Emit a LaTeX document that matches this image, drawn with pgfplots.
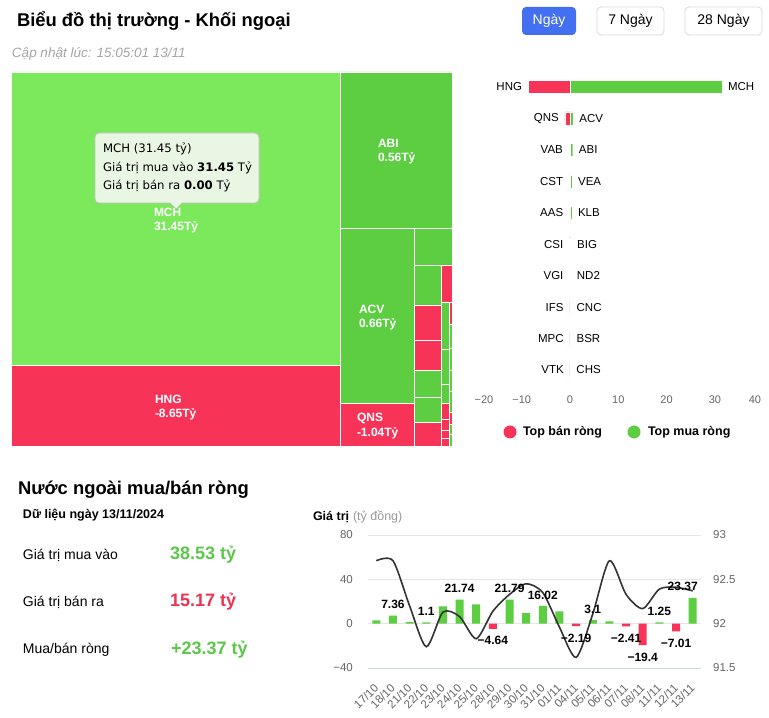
\documentclass[border=0pt]{standalone}
\usepackage{fontspec}
\setmainfont{Liberation Sans}
\newfontfamily\dvsans{DejaVu Sans}
\usepackage{pgfplots}
\pgfplotsset{compat=1.18}

\definecolor{cRed}{HTML}{F73357}
\definecolor{cGreenL}{HTML}{7CE85C}
\definecolor{cGreen}{HTML}{5DCE42}
\definecolor{cBlue}{HTML}{4270F0}
\definecolor{cGrayT}{HTML}{666666}
\definecolor{cGrid}{HTML}{E6E6E6}
\definecolor{cAxis}{HTML}{CCD6EB}
\definecolor{cLine}{HTML}{333333}
\definecolor{cTxtGreen}{HTML}{5BC84A}
\definecolor{cTxtRed}{HTML}{EB3452}
\definecolor{tipbg}{HTML}{EAF6E4}

\newcommand{\fs}[1]{\fontsize{#1}{#1}\selectfont}
% treemap cell: x1 y1 x2 y2 colour
\newcommand{\cell}[5]{\addplot[mark=none, fill=#5, draw=white, line width=0.8pt]
  coordinates {(#1,#2) (#3,#2) (#3,#4) (#1,#4) (#1,#2)};}
\tikzset{tx/.style={inner sep=0pt, outer sep=0pt}}

\begin{document}
\begin{tikzpicture}
\begin{scope}[x=1pt,y=1pt]
\fill[white] (0,0) rectangle (769,718);
% ---- header
\node[tx, anchor=west, font=\bfseries\fs{18.4}] at (17,697) {Biểu đồ thị trường - Khối ngoại};
\fill[cBlue, rounded corners=4pt] (522,683) rectangle (576,711);
\node[tx, white, font=\fs{14}] at (549,697) {Ngày};
\draw[black!15, line width=0.8pt, rounded corners=4pt] (597,683) rectangle (664,711);
\node[tx, font=\fs{14}] at (630.5,697) {7 Ngày};
\draw[black!15, line width=0.8pt, rounded corners=4pt] (685,683) rectangle (762,711);
\node[tx, font=\fs{14}] at (723.5,697) {28 Ngày};
\node[tx, anchor=west, font=\itshape\fs{13.5}, text=black!35] at (12,664) {Cập nhật lúc: 15:05:01 13/11};
\end{scope}

% ---- treemap
\begin{axis}[at={(231.5pt,459pt)}, anchor=center, scale only axis,
  width=441pt, height=374pt, hide axis, clip=false,
  xmin=11, xmax=452, ymin=72, ymax=446, y dir=reverse]
\cell{11}{72}{340}{365}{cGreenL}
\cell{11}{365}{340}{446}{cRed}
\cell{340}{72}{452}{228}{cGreen}
\cell{340}{228}{414}{403}{cGreen}
\cell{340}{403}{414}{446}{cRed}
\cell{414}{228}{452}{265}{cGreen}
\cell{414}{265}{441}{305}{cGreen}
\cell{441}{265}{452}{302}{cRed}
\cell{414}{305}{441}{340}{cRed}
\cell{414}{340}{441}{370}{cRed}
\cell{414}{370}{441}{397}{cGreen}
\cell{414}{397}{441}{422}{cGreen}
\cell{414}{422}{441}{446}{cRed}
\cell{441}{302}{449}{349}{cGreen}
\cell{441}{349}{449}{384}{cGreen}
\cell{441}{384}{449}{403}{cGreen}
\cell{441}{403}{449}{419}{cRed}
\cell{441}{419}{449}{430}{cRed}
\cell{441}{430}{449}{438}{cRed}
\cell{441}{438}{449}{446}{cRed}
\cell{449}{302}{452}{324}{cRed}
\cell{449}{324}{452}{348}{cGreen}
\cell{449}{348}{452}{370}{cGreen}
\cell{449}{370}{452}{391}{cGreen}
\cell{449}{391}{452}{412}{cGreen}
\cell{449}{412}{452}{424}{cRed}
\cell{449}{424}{452}{434}{cGreen}
\cell{449}{434}{452}{446}{cGreen}
\begin{scope}[every node/.style={tx, anchor=west, text=white, font=\bfseries\fs{12}}]
\node at (axis cs:154,212) {MCH};
\node at (axis cs:154,227) {31.45Tỷ};
\node at (axis cs:155,399) {HNG};
\node at (axis cs:155,414) {-8.65Tỷ};
\node at (axis cs:378,143) {ABI};
\node at (axis cs:378,158) {0.56Tỷ};
\node at (axis cs:359,309) {ACV};
\node at (axis cs:359,324) {0.66Tỷ};
\node at (axis cs:357,418) {QNS};
\node at (axis cs:357,433) {-1.04Tỷ};
\end{scope}
\end{axis}

% tooltip
\begin{scope}[x=1pt,y=1pt]
\filldraw[draw=black!25, fill=tipbg, line width=0.7pt, rounded corners=4pt]
  (95,585) -- (259,585) -- (259,515) [sharp corners] -- (182,515) -- (176,509)
  -- (170,515) [rounded corners=4pt] -- (95,515) -- cycle;
\node[tx, anchor=west, font=\dvsans\fs{11.7}] at (103,569) {MCH (31.45 tỷ)};
\node[tx, anchor=west, font=\dvsans\fs{11.7}] at (103,550) {Giá trị mua vào \textbf{31.45} Tỷ};
\node[tx, anchor=west, font=\dvsans\fs{11.7}] at (103,532) {Giá trị bán ra \textbf{0.00} Tỷ};
\end{scope}

% ---- top net buy / sell bars
\begin{axis}[at={(618.3pt,489.5pt)}, anchor=center, scale only axis,
  width=289.8pt, height=314.4pt, hide axis, clip=false,
  xmin=-20, xmax=40, ymin=0.5, ymax=10.5]
\addplot[xbar, bar shift=0pt, bar width=13pt, fill=cRed, draw=white, line width=0.4pt,
  nodes near coords, point meta=explicit symbolic,
  nodes near coords style={anchor=east, xshift=-6pt, inner sep=0pt, font=\fs{11.5}, text=black}]
  coordinates {(-8.65,10) [HNG] (-1.04,9) [QNS] (-0.2,8) [VAB] (-0.15,7) [CST] (-0.12,6) [AAS]
               (-0.1,5) [CSI] (-0.08,4) [VGI] (-0.05,3) [IFS] (-0.03,2) [MPC] (-0.02,1) [VTK]};
\addplot[xbar, bar shift=0pt, bar width=13pt, fill=cGreen, draw=white, line width=0.4pt,
  nodes near coords, point meta=explicit symbolic,
  nodes near coords style={anchor=west, xshift=6pt, inner sep=0pt, font=\fs{11.5}, text=black}]
  coordinates {(31.45,10) [MCH] (0.66,9) [ACV] (0.56,8) [ABI] (0.4,7) [VEA] (0.38,6) [KLB]
               (0.2,5) [BIG] (0.15,4) [ND2] (0.1,3) [CNC] (0.08,2) [BSR] (0.05,1) [CHS]};
\begin{scope}[every node/.style={tx, text=cGrayT, font=\fs{11}, yshift=-14.3pt}]
\node at (axis cs:-17.8,0.5) {−20};
\node at (axis cs:-10,0.5) {−10};
\node at (axis cs:0,0.5) {0};
\node at (axis cs:10,0.5) {10};
\node at (axis cs:20,0.5) {20};
\node at (axis cs:30,0.5) {30};
\node at (axis cs:38.3,0.5) {40};
\end{scope}
\end{axis}

\begin{scope}[x=1pt,y=1pt]
% legend
\fill[cRed] (510,286) circle (6.5pt);
\node[tx, anchor=west, font=\bfseries\fs{12.5}] at (523,286) {Top bán ròng};
\fill[cGreen] (634,286) circle (6.5pt);
\node[tx, anchor=west, font=\bfseries\fs{12.5}] at (648,286) {Top mua ròng};

% ---- bottom left summary
\node[tx, anchor=west, font=\bfseries\fs{18.4}] at (18,228) {Nước ngoài mua/bán ròng};
\node[tx, anchor=west, font=\bfseries\fs{12.5}] at (23,203) {Dữ liệu ngày 13/11/2024};
\node[tx, anchor=west, font=\fs{14}] at (23,163) {Giá trị mua vào};
\node[tx, anchor=west, font=\bfseries\fs{18}, text=cTxtGreen] at (170,163) {38.53 tỷ};
\node[tx, anchor=west, font=\fs{14}] at (23,116) {Giá trị bán ra};
\node[tx, anchor=west, font=\bfseries\fs{18}, text=cTxtRed] at (170,116) {15.17 tỷ};
\node[tx, anchor=west, font=\fs{14}] at (23,68) {Mua/bán ròng};
\node[tx, anchor=west, font=\bfseries\fs{18}, text=cTxtGreen] at (171,68) {+23.37 tỷ};

% ---- bottom chart title
\node[tx, anchor=west, font=\bfseries\fs{12.5}] at (313,201) {Giá trị};
\node[tx, anchor=west, font=\fs{12.5}, text=black!40] at (353,201) {(tỷ đồng)};
\end{scope}

\begin{axis}[at={(534.5pt,116.5pt)}, anchor=center, scale only axis,
  width=333pt, height=133pt,
  xmin=-0.5, xmax=19.5, ymin=-40, ymax=80,
  axis x line*=bottom, axis y line*=left,
  y axis line style={draw=none}, x axis line style={cAxis, line width=0.8pt},
  ymajorgrids, grid style={cGrid, line width=0.8pt},
  major tick length=0pt,
  ytick={-40,0,40,80}, yticklabels={−40,0,40,80},
  yticklabel style={anchor=east, inner sep=0pt, xshift=-15pt, font=\fs{11.5}, text=cGrayT},
  xtick={0,...,19},
  xticklabels={17/10,18/10,21/10,22/10,23/10,24/10,25/10,28/10,29/10,30/10,31/10,
               01/11,04/11,05/11,06/11,07/11,08/11,11/11,12/11,13/11},
  xticklabel style={yshift=-18pt, rotate=45, anchor=east, inner sep=0pt, font=\fs{11.5}, text=cGrayT}]
\addplot[ybar, bar shift=0pt, bar width=8pt, fill=cGreen, draw=none]
  coordinates {(0,3.0) (1,7.36) (2,1.5) (3,1.1) (4,15.6) (5,21.74) (6,17.5) (8,21.79) (9,9.6)
               (10,16.02) (11,11.1) (13,3.1) (14,2.0) (17,1.25) (19,23.37)};
\addplot[ybar, bar shift=0pt, bar width=8pt, fill=cRed, draw=none]
  coordinates {(7,-4.64) (12,-2.19) (15,-2.41) (16,-19.4) (18,-7.01)};
\end{axis}

\begin{axis}[at={(534.5pt,116.5pt)}, anchor=center, scale only axis,
  width=333pt, height=133pt,
  xmin=-0.5, xmax=19.5, ymin=91.5, ymax=93,
  axis x line=none, axis y line*=right, y axis line style={draw=none},
  major tick length=0pt,
  ytick={91.5,92,92.5,93}, yticklabels={91.5,92,92.5,93},
  yticklabel style={anchor=west, inner sep=0pt, xshift=12pt, font=\fs{11.5}, text=cGrayT}]
\addplot[smooth, tension=0.45, mark=none, cLine, line width=1.6pt]
  coordinates {(0,92.71) (1,92.71) (2,92.2) (3,91.74) (4,92.13) (5,92.08) (6,91.83) (7,92.14)
               (8,92.33) (9,92.45) (10,92.35) (11,91.96) (12,91.62) (13,92.11) (14,92.71)
               (15,92.33) (16,92.17) (17,92.39) (18,92.41) (19,92.37)};
\end{axis}

\begin{axis}[at={(534.5pt,116.5pt)}, anchor=center, scale only axis,
  width=333pt, height=133pt, hide axis, clip=false,
  xmin=-0.5, xmax=19.5, ymin=-40, ymax=80]
\begin{scope}[every node/.style={tx, font=\bfseries\fs{12}}]
\node[yshift=11pt] at (axis cs:1,7.36) {7.36};
\node[yshift=11pt] at (axis cs:3,1.1) {1.1};
\node[yshift=11pt] at (axis cs:5,21.74) {21.74};
\node[yshift=-12pt] at (axis cs:7,-4.64) {−4.64};
\node[yshift=11pt] at (axis cs:8,21.79) {21.79};
\node[yshift=11pt] at (axis cs:10,16.02) {16.02};
\node[yshift=-12pt] at (axis cs:12,-2.19) {−2.19};
\node[yshift=11pt] at (axis cs:13,3.1) {3.1};
\node[yshift=-12pt] at (axis cs:15,-2.41) {−2.41};
\node[yshift=-12pt] at (axis cs:16,-19.4) {−19.4};
\node[yshift=11pt] at (axis cs:17,1.25) {1.25};
\node[yshift=-12pt] at (axis cs:18,-7.01) {−7.01};
\node[yshift=11pt, xshift=-10pt] at (axis cs:19,23.37) {23.37};
\end{scope}
\end{axis}

\pgfresetboundingbox
\path[use as bounding box] (0,0) rectangle (769pt,718pt);
\end{tikzpicture}
\end{document}
